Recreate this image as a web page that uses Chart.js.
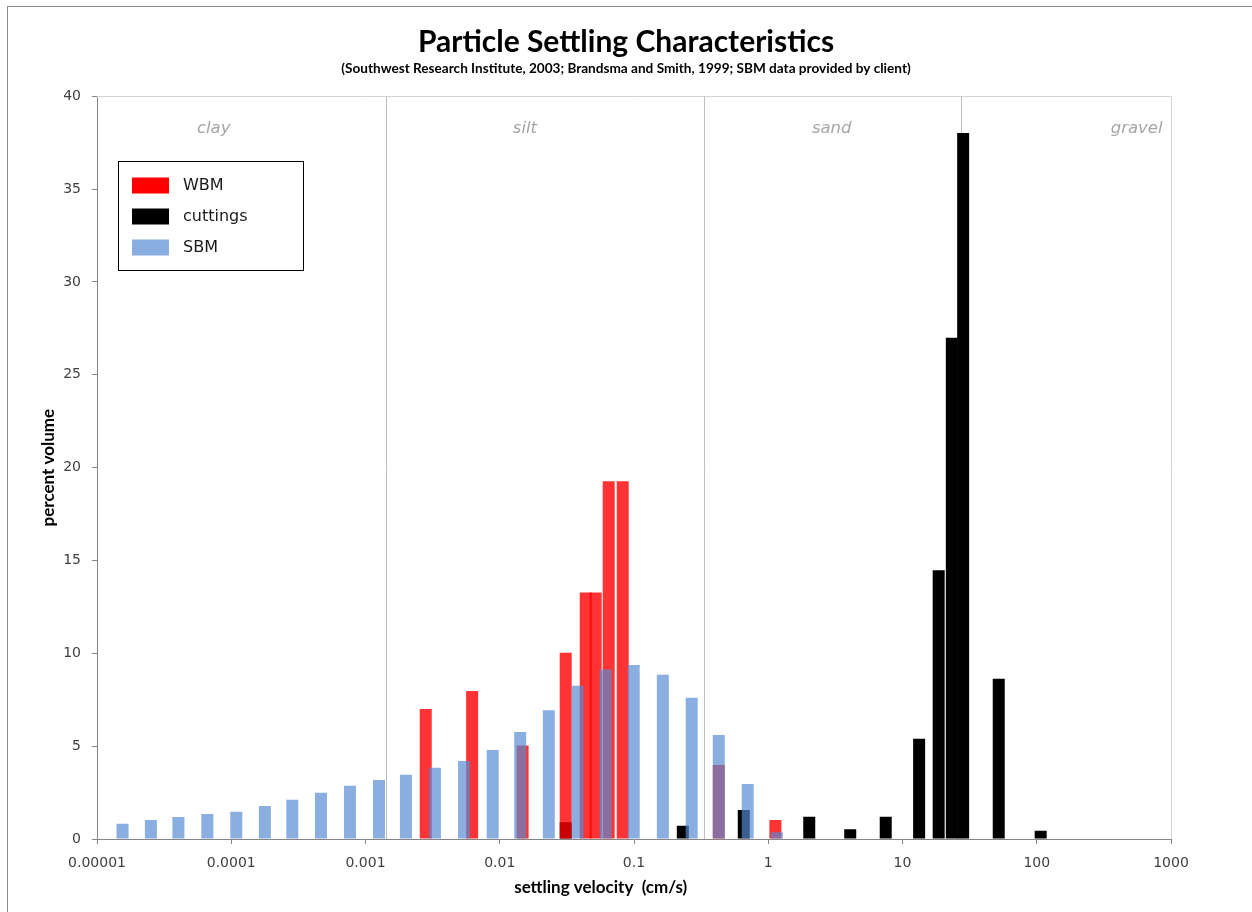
<!DOCTYPE html>
<html>
<head>
<meta charset="utf-8">
<title>Particle Settling Characteristics</title>
<script src="https://cdn.jsdelivr.net/npm/chart.js@4.4.1/dist/chart.umd.min.js"></script>
<style>
  html, body { margin: 0; padding: 0; background: #ffffff; }
  #wrap { width: 1252px; height: 912px; }
</style>
</head>
<body>
<div id="wrap"><canvas id="chart" width="1252" height="912"></canvas></div>
<script>
// Settling velocity (cm/s) of each size class and its share of the volume (%)
const wbmVelocity = [0.00281, 0.00623, 0.0148, 0.031, 0.0437, 0.0518, 0.0648, 0.0824, 0.428, 1.13];
const wbmPercent  = [7.0, 7.97, 5.03, 10.03, 13.28, 13.28, 19.27, 19.27, 3.98, 1.02];

const cuttingsVelocity = [0.031, 0.231, 0.657, 2.02, 4.08, 7.5, 13.3, 18.6, 23.3, 28.3, 52.1, 107];
const cuttingsPercent  = [0.9, 0.72, 1.56, 1.2, 0.52, 1.2, 5.4, 14.48, 27.0, 38.02, 8.63, 0.45];

const sbmVelocity = [0.0000155, 0.0000252, 0.0000404, 0.0000664, 0.000109, 0.000178, 0.000285, 0.000466,
                     0.000766, 0.00126, 0.0020, 0.00329, 0.00542, 0.00886, 0.0142, 0.0232, 0.0381, 0.0615,
                     0.0995, 0.164, 0.269, 0.428, 0.703, 1.16];
const sbmPercent  = [0.82, 1.02, 1.18, 1.35, 1.47, 1.78, 2.12, 2.49, 2.87, 3.18, 3.46, 3.84, 4.2, 4.79,
                     5.76, 6.94, 8.25, 9.13, 9.37, 8.85, 7.61, 5.6, 2.96, 0.36];

// Axis ticks
const xTickLabels = ['0.00001', '0.0001', '0.001', '0.01', '0.1', '1', '10', '100', '1000'];
const yTickValues = [0, 5, 10, 15, 20, 25, 30, 35, 40];

// Sediment classes: boundaries between them and where each name sits (cm/s)
const zoneNames = ['clay', 'silt', 'sand', 'gravel'];
const zoneBoundaries = [0.00141, 0.33, 27.5];
const zoneLabelVelocity = [0.000074, 0.0154, 2.97, 555];

const seriesNames = ['WBM', 'cuttings', 'SBM'];
const seriesFill = ['rgba(255, 0, 0, 0.8)', '#000000', 'rgba(84, 137, 210, 0.686)'];
const legendFill = ['#ff0000', '#000000', 'rgba(84, 137, 210, 0.686)'];

const xAxisTitle = 'settling velocity  (cm/s)';

function toPoints(xs, ys) {
  return xs.map((x, i) => ({ x: x, y: ys[i] }));
}

const AXIS_GRAY = '#868686';
const LABEL_COLOR = '#404040';

// Class boundaries, class names and the light top/right frame, under the bars
const zonesPlugin = {
  id: 'zones',
  beforeDatasetsDraw(chart) {
    const { ctx, chartArea: a, scales: { x } } = chart;
    ctx.save();
    ctx.strokeStyle = '#d4d4d4';
    ctx.lineWidth = 1;
    ctx.beginPath();
    ctx.moveTo(a.left, Math.round(a.top) + 0.5);
    ctx.lineTo(Math.round(a.right) + 0.5, Math.round(a.top) + 0.5);
    ctx.lineTo(Math.round(a.right) + 0.5, a.bottom);
    ctx.stroke();

    ctx.strokeStyle = '#bfbfbf';
    zoneBoundaries.forEach(v => {
      const px = Math.round(x.getPixelForValue(v)) + 0.5;
      ctx.beginPath();
      ctx.moveTo(px, a.top);
      ctx.lineTo(px, a.bottom);
      ctx.stroke();
    });

    ctx.fillStyle = '#a6a6a6';
    ctx.font = 'italic 16.5px "DejaVu Sans"';
    ctx.textAlign = 'center';
    ctx.textBaseline = 'middle';
    zoneNames.forEach((name, i) => {
      ctx.fillText(name, x.getPixelForValue(zoneLabelVelocity[i]), a.top + 32);
    });
    ctx.restore();
  }
};

// Boxed legend inside the plot, the x axis title and the outer chart border
const boxLegendPlugin = {
  id: 'boxLegend',
  afterDraw(chart) {
    const { ctx, scales: { x } } = chart;
    ctx.save();
    ctx.strokeStyle = '#8c8c8c';
    ctx.lineWidth = 1;
    ctx.strokeRect(7.5, 6.5, 1300, 1000);

    // axis title sits under the 0.1 decade, left of the plot centre
    ctx.fillStyle = '#000000';
    ctx.font = 'bold 17px Lato';
    ctx.textAlign = 'center';
    ctx.textBaseline = 'middle';
    ctx.fillText(xAxisTitle, x.left + (x.right - x.left) * 0.469, x.bottom - 24);

    const left = 118.5, top = 161.5, w = 185, h = 109;
    ctx.strokeStyle = '#000000';
    ctx.strokeRect(left, top, w, h);
    ctx.font = '16px "DejaVu Sans"';
    ctx.textAlign = 'left';
    chart.data.datasets.forEach((ds, i) => {
      const cy = 185.5 + i * 31;
      ctx.fillStyle = legendFill[i];
      ctx.fillRect(132, cy - 8, 37, 16);
      ctx.fillStyle = '#1a1a1a';
      ctx.fillText(ds.label, 183, cy);
    });
    ctx.restore();
  }
};

const chart = new Chart(document.getElementById('chart'), {
  type: 'bar',
  data: {
    datasets: [
      { label: seriesNames[0], data: toPoints(wbmVelocity, wbmPercent), backgroundColor: seriesFill[0], order: 1, stack: 'all' },
      { label: seriesNames[1], data: toPoints(cuttingsVelocity, cuttingsPercent), backgroundColor: seriesFill[1], order: 2, stack: 'all' },
      { label: seriesNames[2], data: toPoints(sbmVelocity, sbmPercent), backgroundColor: seriesFill[2], order: 0, stack: 'all' }
    ]
  },
  options: {
    responsive: false,
    animation: false,
    devicePixelRatio: 1,
    datasets: {
      bar: { barThickness: 12, grouped: true, borderWidth: 0, inflateAmount: 0 }
    },
    layout: { padding: 0 },
    plugins: {
      legend: { display: false },
      tooltip: { enabled: false },
      title: {
        display: true,
        text: 'Particle Settling Characteristics',
        color: '#000000',
        font: { family: 'Lato', weight: 'bold', size: 30 },
        padding: { top: 24, bottom: 0 }
      },
      subtitle: {
        display: true,
        text: '(Southwest Research Institute, 2003; Brandsma and Smith, 1999; SBM data provided by client)',
        color: '#000000',
        font: { family: 'Lato', weight: 'bold', size: 13.6 },
        padding: { top: 0, bottom: 20 }
      }
    },
    scales: {
      x: {
        type: 'logarithmic',
        min: Number(xTickLabels[0]),
        max: Number(xTickLabels[xTickLabels.length - 1]),
        offset: false,
        grid: { display: true, drawOnChartArea: false, drawTicks: true, tickLength: 5, color: AXIS_GRAY, offset: false },
        border: { display: true, color: AXIS_GRAY },
        afterBuildTicks: s => { s.ticks = xTickLabels.map(t => ({ value: Number(t) })); },
        afterFit: s => { s.height = 73; },
        ticks: {
          autoSkip: false,
          maxRotation: 0,
          padding: 11,
          color: LABEL_COLOR,
          font: { family: 'DejaVu Sans', size: 14 },
          callback: v => {
            const hit = xTickLabels.find(t => Number(t) === v);
            return hit === undefined ? '' : hit;
          }
        }
      },
      y: {
        type: 'linear',
        min: yTickValues[0],
        max: yTickValues[yTickValues.length - 1],
        stacked: false,
        grid: { display: true, drawOnChartArea: false, drawTicks: true, tickLength: 5, color: AXIS_GRAY },
        border: { display: true, color: AXIS_GRAY },
        afterBuildTicks: s => { s.ticks = yTickValues.map(v => ({ value: v })); },
        afterFit: s => { s.width = 97; },
        ticks: {
          padding: 11,
          color: LABEL_COLOR,
          font: { family: 'DejaVu Sans', size: 14 }
        },
        title: {
          display: true,
          text: 'percent volume',
          color: '#000000',
          font: { family: 'Lato', weight: 'bold', size: 17 },
          padding: { top: 38, bottom: 0 }
        }
      },
      // empty margin on the right of the plot
      yMargin: {
        type: 'linear',
        position: 'right',
        display: true,
        grid: { display: false, drawTicks: false },
        border: { display: false },
        ticks: { display: false },
        afterFit: s => { s.width = 81; }
      }
    }
  },
  plugins: [zonesPlugin, boxLegendPlugin]
});
</script>
</body>
</html>
